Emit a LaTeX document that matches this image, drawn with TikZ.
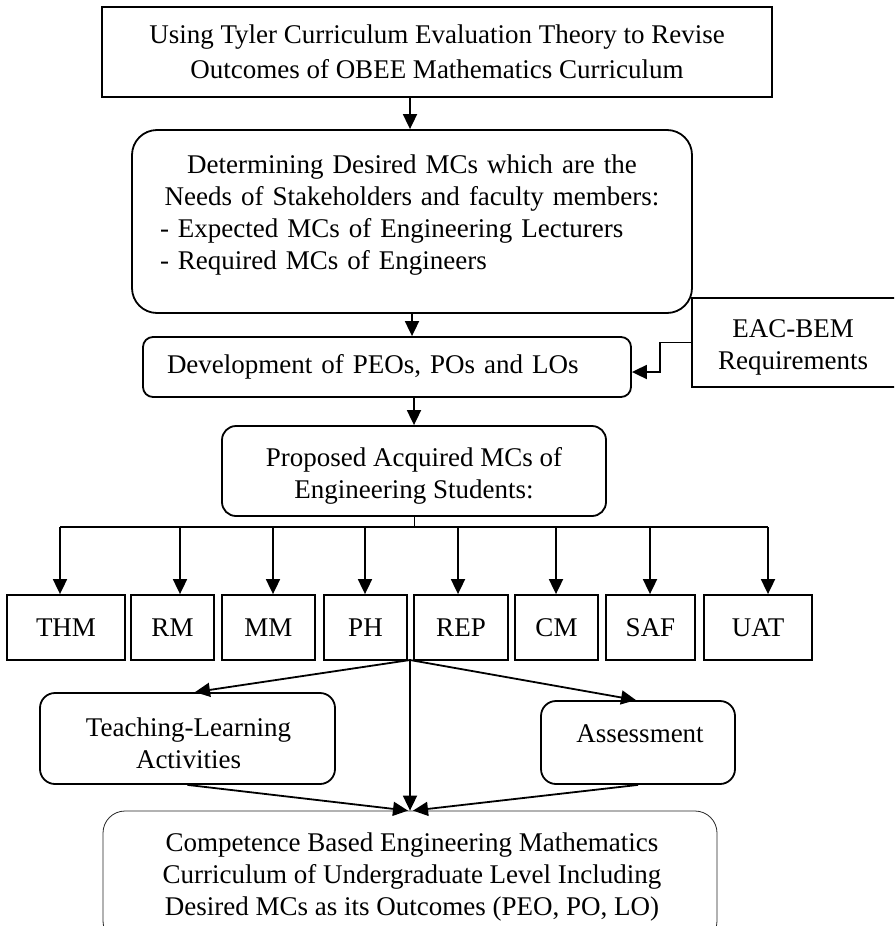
\documentclass[tikz,border=0pt]{standalone}
\usepackage{fontspec}
\setmainfont{Liberation Serif}
\usetikzlibrary{arrows.meta}
\newcommand\flowfont{\fontsize{27}{32}\selectfont}
\begin{document}
\begin{tikzpicture}[x=1pt,y=-1pt,
  box/.style={draw, line width=1.8pt, inner sep=0pt, align=center, font=\flowfont},
  rbox/.style={box, rounded corners=#1},
  txt/.style={inner sep=0pt, align=center, font=\flowfont},
  arr/.style={line width=1.8pt, -{Triangle[length=15pt,width=14pt]}},
  link/.style={line width=1.8pt},
]
\useasboundingbox (0,0) rectangle (894,926);
\clip (0,0) rectangle (894,926);

% title box
\node[box, minimum width=670pt, minimum height=90pt,
      font=\fontsize{27}{35}\selectfont] (tyler) at (437,52)
  {Using Tyler Curriculum Evaluation Theory to Revise\\Outcomes of OBEE Mathematics Curriculum};

% desired competences
\node[rbox=25pt, minimum width=560pt, minimum height=183pt] (desired) at (412,221.5) {};
\node[txt, text width=504pt, align=left] (desiredtext) at (412,215)
  {\makebox[\linewidth]{Determining Desired MCs which are the}\\
   \makebox[\linewidth]{Needs of Stakeholders and faculty members:}\\
   - Expected MCs of Engineering Lecturers\\
   - Required MCs of Engineers};

% outcomes development
\node[rbox=10pt, minimum width=488pt, minimum height=60pt, text width=440pt,
      inner xsep=24pt, align=left] (dev) at (387,367) {Development of PEOs, POs and LOs};

% accreditation requirements
\node[box, minimum width=204pt, minimum height=89pt] (eac) at (794,342.5) {};
\node[txt] (eactext) at (793,347) {EAC-BEM\\Requirements};

% proposed acquired competences
\node[rbox=14pt, minimum width=384pt, minimum height=90pt] (prop) at (414,471) {};
\node[txt] (proptext) at (414,476) {Proposed Acquired MCs of\\Engineering Students:};

% competence boxes
\foreach \n/\c/\w/\t in {thm/66/117.5/THM, rm/172.5/83/RM, mm/268.5/93/MM, ph/365.5/83/PH,
                         rep/461/94/REP, cm/556.5/83/CM, saf/650.5/89/SAF, uat/758/108/UAT}
  \node[box, minimum width=\w pt, minimum height=65pt] (\n) at (\c,627.5) {\t};

% teaching and assessment
\node[rbox=15pt, minimum width=295pt, minimum height=91pt] (teach) at (187.5,738.5) {};
\node[txt] (teachtext) at (188.5,743.5) {Teaching-Learning\\Activities};
\node[rbox=15pt, minimum width=194pt, minimum height=83pt] (assess) at (638,742.5) {};
\node[txt] (assesstext) at (640,734) {Assessment};

% resulting curriculum
\node[rbox=22pt, line width=0.8pt, draw=black!85, minimum width=614pt, minimum height=132pt]
  (curr) at (410,877) {};
\node[txt] (currtext) at (412,877)
  {Competence Based Engineering Mathematics\\Curriculum of Undergraduate Level Including\\Desired MCs as its Outcomes (PEO, PO, LO)};

% main chain
\coordinate (titleout) at (410,97);
\draw[arr] (titleout) -- (titleout |- desired.north);
\draw[arr] (desired.south) -- (desired.south |- dev.north);
\draw[arr] ([xshift=27pt]dev.south) -- ([xshift=27pt]dev.south |- prop.north);

% requirements feed
\draw[arr] (eac.west) -- ++(-31,0) |- ([yshift=-5pt]dev.east);

% distribution bus
\coordinate (busL) at (60,527);
\coordinate (busR) at (768,527);
\draw[line width=0.8pt] (prop.south) -- (prop.south |- busL);
\draw[link] (busL) -- (busR);
\foreach \n/\ax in {thm/60, rm/180, mm/273, ph/365, rep/458, cm/556, saf/650, uat/768} {
  \coordinate (drop-\n) at (\ax,527);
  \draw[arr] (drop-\n) -- (drop-\n |- \n.north);
}

% fan out and converge
\coordinate (fan) at (410,660);
\draw[arr] (fan) -- ([xshift=7.5pt]teach.north);
\draw[arr] (fan) -- ([xshift=-2pt]assess.north);
\draw[arr] (fan) -- (fan |- curr.north);
\draw[arr] (teach.south) -- ([xshift=-2pt]curr.north);
\draw[arr] (assess.south) -- ([xshift=3pt]curr.north);
\end{tikzpicture}
\end{document}
